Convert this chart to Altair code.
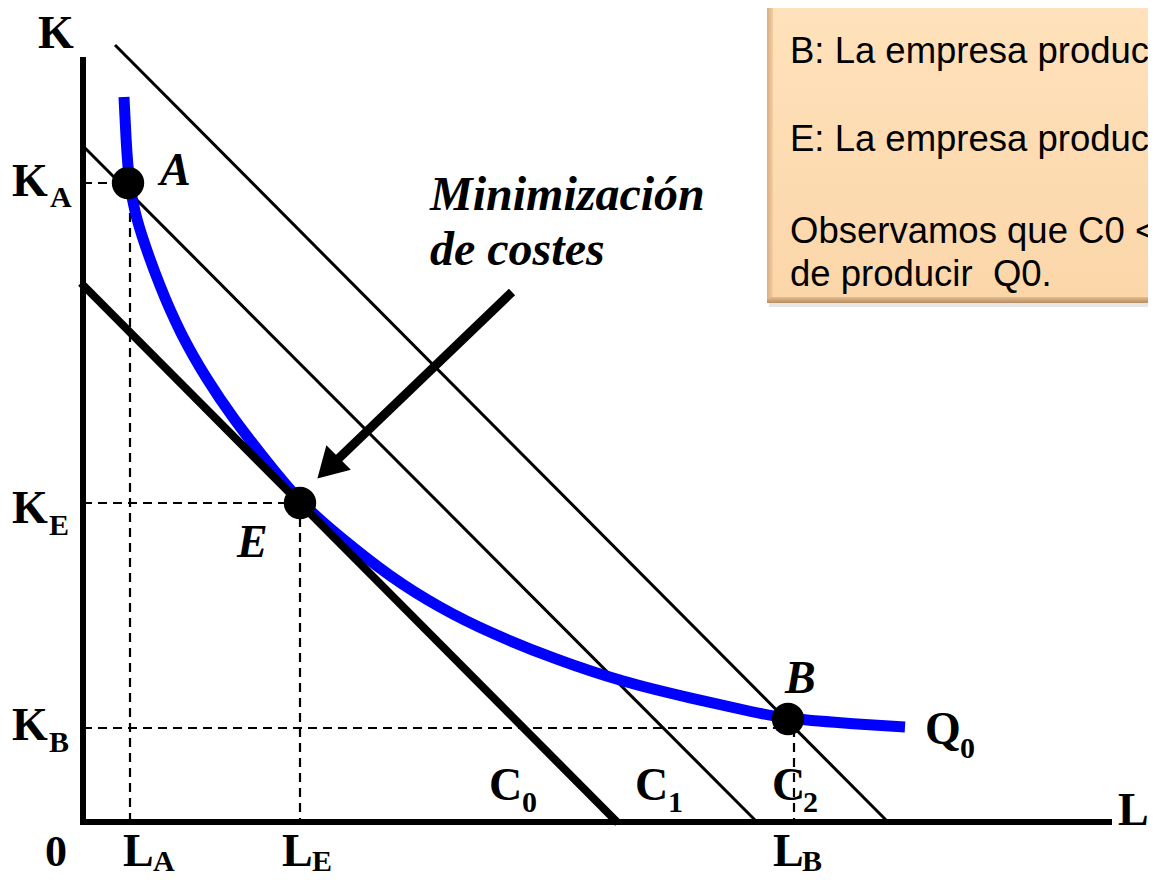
import altair as alt
import pandas as pd

# Drawing frame: L (labour) horizontal, K (capital) vertical
L_DOMAIN = [-75, 1065]
K_DOMAIN = [-56, 814]

# Isoquant Q0
q0_L = [41, 43, 46, 52, 60, 77, 97, 124, 150, 177, 217, 257, 307, 357, 407, 474, 540, 607, 674, 705, 774, 822]
q0_K = [725, 682, 639, 609, 582, 535, 489, 442, 404, 369, 319, 285, 245, 214, 189, 162, 140, 124, 109, 103, 98, 95]

# Isocost lines C0, C1, C2
iso_names = ["C0", "C1", "C2"]
iso_L1 = [-2, 2, 32]
iso_K1 = [539, 674, 777]
iso_L2 = [535, 674, 805]
iso_K2 = [-1, 0, 0]

# Points A, E, B
pt_names = ["A", "E", "B"]
pt_L = [45, 217, 705]
pt_K = [639, 319, 103]

# Dashed guide lines
dash_L1 = [0, 47, 0, 217, 0, 711]
dash_K1 = [639, 639, 319, 319, 94, 94]
dash_L2 = [45, 47, 217, 217, 705, 711]
dash_K2 = [639, 0, 319, 0, 94, 0]

# Axes
axis_L1 = [0, -3]
axis_K1 = [-3, 0]
axis_L2 = [0, 1029]
axis_K2 = [765, 0]

# Arrow "Minimización de costes"
arrow_L1, arrow_K1, arrow_L2, arrow_K2 = [429], [530], [253], [361]
head_L, head_K = [245], [354]

# Upright bold serif labels
lab_text = ["K", "K", "A", "K", "E", "K", "B", "0", "L", "A", "L", "E", "L", "B", "L",
            "C", "0", "C", "1", "C", "2", "Q", "0"]
lab_L = [-45, -71, -33, -71, -34, -71, -34, -38, 40, 70, 199, 229, 690, 719, 1035,
         406, 439, 552, 585, 689, 720, 842, 877]
lab_K = [774, 626, 615, 299, 287, 82, 70, -44, -44, -49, -44, -49, -44, -49, -3,
         22, 10, 22, 10, 22, 10, 78, 64]
lab_size = [46, 46, 30, 46, 30, 46, 30, 44, 46, 30, 46, 30, 46, 30, 46,
            46, 30, 46, 30, 46, 30, 46, 30]

# Italic bold serif labels
it_text = ["A", "E", "B", "Minimización", "de costes"]
it_L = [77, 154, 702, 347, 347]
it_K = [637, 265, 129, 612, 557]
it_size = [46, 46, 46, 48, 48]

# Text box
box_lines = ["B: La empresa produce Q0 con coste C2",
             "E: La empresa produce Q0 con coste C0",
             "Observamos que C0 < C2: E es la forma",
             "de producir\u00a0 Q0."]
box_L = [707, 707, 707, 707]
box_K = [759, 671, 579, 536]

xs = alt.Scale(domain=L_DOMAIN, nice=False, zero=False)
ys = alt.Scale(domain=K_DOMAIN, nice=False, zero=False)


def X(f):
    return alt.X(f, type="quantitative", scale=xs, axis=None)


def Y(f):
    return alt.Y(f, type="quantitative", scale=ys, axis=None)


# --- background box
box_df = pd.DataFrame({"L1": [684], "L2": [1080], "K1": [519], "K2": [830]})
bevel_left_df = pd.DataFrame({"L1": [684], "L2": [690], "K1": [519], "K2": [830]})
bevel_bot_df = pd.DataFrame({"L1": [684], "L2": [1080], "K1": [519], "K2": [525]})
shadow_df = pd.DataFrame({"L1": [686], "L2": [1080], "K1": [515], "K2": [519]})

main_grad = alt.Gradient(gradient="linear", x1=0, x2=0, y1=0, y2=1,
                         stops=[alt.GradientStop(color="#FFE2BC", offset=0),
                                alt.GradientStop(color="#FBD6A9", offset=1)])
left_grad = alt.Gradient(gradient="linear", x1=0, x2=1, y1=0, y2=0,
                         stops=[alt.GradientStop(color="#D8AD83", offset=0),
                                alt.GradientStop(color="#F5CEA2", offset=1)])
bot_grad = alt.Gradient(gradient="linear", x1=0, x2=0, y1=0, y2=1,
                        stops=[alt.GradientStop(color="#E5BC90", offset=0),
                               alt.GradientStop(color="#B88C63", offset=1)])

shadow = alt.Chart(shadow_df).mark_rect(color="#E6E6E6").encode(
    x=X("L1"), x2="L2", y=Y("K1"), y2="K2")
box = alt.Chart(box_df).mark_rect(color=main_grad).encode(
    x=X("L1"), x2="L2", y=Y("K1"), y2="K2")
bevel_left = alt.Chart(bevel_left_df).mark_rect(color=left_grad).encode(
    x=X("L1"), x2="L2", y=Y("K1"), y2="K2")
bevel_bot = alt.Chart(bevel_bot_df).mark_rect(color=bot_grad).encode(
    x=X("L1"), x2="L2", y=Y("K1"), y2="K2")

box_text = alt.Chart(pd.DataFrame({"t": box_lines, "L": box_L, "K": box_K})).mark_text(
    align="left", baseline="alphabetic", font="Liberation Sans", fontSize=36.5, color="#000000"
).encode(x=X("L"), y=Y("K"), text="t:N")

# --- dashed guides
dash_df = pd.DataFrame({"L1": dash_L1, "K1": dash_K1, "L2": dash_L2, "K2": dash_K2})
dashes = alt.Chart(dash_df).mark_rule(color="#000000", strokeWidth=2.2, strokeDash=[9, 6]).encode(
    x=X("L1"), y=Y("K1"), x2="L2", y2="K2")

# --- isocosts
iso_df = pd.DataFrame({"name": iso_names, "L1": iso_L1, "K1": iso_K1, "L2": iso_L2, "K2": iso_K2})
iso_thin = alt.Chart(iso_df).transform_filter(alt.datum.name != "C0").mark_rule(
    color="#000000", strokeWidth=3).encode(x=X("L1"), y=Y("K1"), x2="L2", y2="K2")
iso_thick = alt.Chart(iso_df).transform_filter(alt.datum.name == "C0").mark_rule(
    color="#000000", strokeWidth=8).encode(x=X("L1"), y=Y("K1"), x2="L2", y2="K2")

# --- isoquant
q_df = pd.DataFrame({"L": q0_L, "K": q0_K, "o": list(range(len(q0_L)))})
isoquant = alt.Chart(q_df).mark_line(color="#0000FF", strokeWidth=11, interpolate="basis").encode(
    x=X("L"), y=Y("K"), order="o:Q")

# --- axes
ax_df = pd.DataFrame({"L1": axis_L1, "K1": axis_K1, "L2": axis_L2, "K2": axis_K2})
axes = alt.Chart(ax_df).mark_rule(color="#000000", strokeWidth=6).encode(
    x=X("L1"), y=Y("K1"), x2="L2", y2="K2")

# --- arrow
arr_df = pd.DataFrame({"L1": arrow_L1, "K1": arrow_K1, "L2": arrow_L2, "K2": arrow_K2})
shaft = alt.Chart(arr_df).mark_rule(color="#000000", strokeWidth=9).encode(
    x=X("L1"), y=Y("K1"), x2="L2", y2="K2")
head = alt.Chart(pd.DataFrame({"L": head_L, "K": head_K})).mark_point(
    shape="triangle-down", filled=True, color="#000000", opacity=1, size=1200, angle=45
).encode(x=X("L"), y=Y("K"))

# --- points
pts = alt.Chart(pd.DataFrame({"n": pt_names, "L": pt_L, "K": pt_K})).mark_circle(
    color="#000000", opacity=1, size=1050).encode(x=X("L"), y=Y("K"))

# --- labels
lab_df = pd.DataFrame({"t": lab_text, "L": lab_L, "K": lab_K, "s": lab_size})
labels = alt.Chart(lab_df).mark_text(
    align="left", baseline="alphabetic", font="Liberation Serif", fontWeight="bold", color="#000000"
).encode(x=X("L"), y=Y("K"), text="t:N", size=alt.Size("s:Q", scale=None, legend=None))

it_df = pd.DataFrame({"t": it_text, "L": it_L, "K": it_K, "s": it_size})
it_labels = alt.Chart(it_df).mark_text(
    align="left", baseline="alphabetic", font="Liberation Serif", fontWeight="bold",
    fontStyle="italic", color="#000000"
).encode(x=X("L"), y=Y("K"), text="t:N", size=alt.Size("s:Q", scale=None, legend=None))

chart = alt.layer(
    shadow, box, bevel_left, bevel_bot, box_text,
    dashes, iso_thin, isoquant, iso_thick, axes, shaft, head, pts, labels, it_labels
).properties(
    width=1140, height=870, padding=0, autosize="none", background="#FFFFFF"
).configure_view(stroke=None)

chart.save("out.html", embed_options={"renderer": "svg", "actions": False})
